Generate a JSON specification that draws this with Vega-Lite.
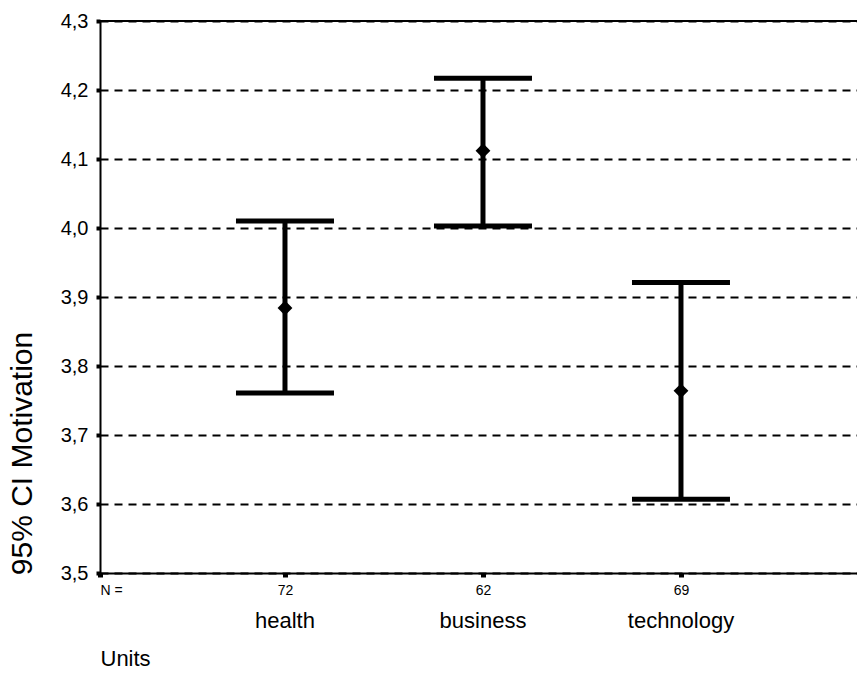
{
  "$schema": "https://vega.github.io/schema/vega-lite/v6.json",
  "width": 757,
  "height": 552,
  "autosize": "none",
  "padding": {"left": 100, "top": 21, "right": 0, "bottom": 124},
  "background": "white",
  "config": {
    "view": {"stroke": null},
    "font": "Liberation Sans",
    "axis": {"labelFont": "Liberation Sans", "titleFont": "Liberation Sans", "labelColor": "black", "titleColor": "black", "domainColor": "black", "tickColor": "black"}
  },
  "data": {
    "values": [
      {"unit": "health", "pos": 1, "n": 72, "lo": 3.761, "hi": 4.010, "mean": 3.884},
      {"unit": "business", "pos": 2, "n": 62, "lo": 4.003, "hi": 4.217, "mean": 4.112},
      {"unit": "technology", "pos": 3, "n": 69, "lo": 3.607, "hi": 3.921, "mean": 3.764}
    ]
  },
  "encoding": {
    "x": {
      "field": "pos",
      "type": "quantitative",
      "scale": {"domain": [0.0657, 3.889], "nice": false, "zero": false},
      "axis": {
        "values": [0.0657, 1, 2, 3],
        "labelExpr": "datum.value == 1 ? '72' : datum.value == 2 ? '62' : datum.value == 3 ? '69' : 'N ='",
        "labelFontSize": 14,
        "labelPadding": 6,
        "tickSize": 4,
        "tickWidth": 5,
        "domainWidth": 2,
        "grid": false,
        "title": "Units",
        "titleFontSize": 22,
        "titleFontWeight": "normal",
        "titleAnchor": "start",
        "titleAlign": "left",
        "titleBaseline": "alphabetic",
        "titleX": 0,
        "titleY": 92
      }
    }
  },
  "layer": [
    {
      "mark": {"type": "rule", "stroke": "black", "strokeWidth": 2},
      "encoding": {"y": {"datum": 4.3, "type": "quantitative", "scale": {"domain": [3.5, 4.3], "nice": false, "zero": false},
        "axis": {
          "values": [3.5, 3.6, 3.7, 3.8, 3.9, 4.0, 4.1, 4.2, 4.3],
          "labelExpr": "replace(format(datum.value, '.1f'), '.', ',')",
          "labelFontSize": 20,
          "labelPadding": 8,
          "tickSize": 4,
          "tickWidth": 4,
          "domainWidth": 2,
          "grid": true,
          "gridColor": "black",
          "gridWidth": 2,
          "gridDash": [8, 6],
          "title": "95% CI Motivation",
          "titleFontSize": 30,
          "titleFontWeight": "normal",
          "titleAngle": -90,
          "titleAlign": "center",
          "titleBaseline": "middle",
          "titleX": -78,
          "titleY": 432
        }}, "x": null}
    },
    {
      "mark": {"type": "rule", "stroke": "black", "strokeWidth": 5},
      "encoding": {
        "y": {"field": "lo", "type": "quantitative"},
        "y2": {"field": "hi"}
      }
    },
    {
      "mark": {"type": "tick", "orient": "horizontal", "size": 98, "thickness": 5, "color": "black", "opacity": 1},
      "encoding": {"y": {"field": "hi", "type": "quantitative"}}
    },
    {
      "mark": {"type": "tick", "orient": "horizontal", "size": 98, "thickness": 5, "color": "black", "opacity": 1},
      "encoding": {"y": {"field": "lo", "type": "quantitative"}}
    },
    {
      "mark": {"type": "point", "shape": "diamond", "filled": true, "size": 220, "color": "black", "opacity": 1},
      "encoding": {"y": {"field": "mean", "type": "quantitative"}}
    },
    {
      "mark": {"type": "text", "fontSize": 22, "dy": 55, "color": "black", "baseline": "alphabetic", "align": "center"},
      "encoding": {"y": {"datum": 3.5, "type": "quantitative"}, "text": {"field": "unit"}}
    }
  ]
}
